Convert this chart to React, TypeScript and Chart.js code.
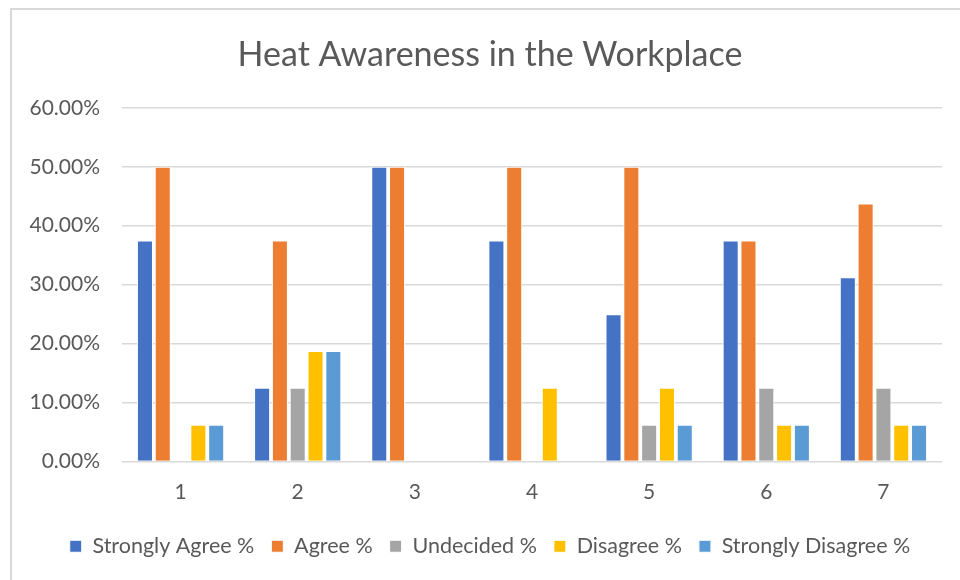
import React, { useEffect, useRef } from "react";
import { Chart, registerables } from "chart.js";

Chart.register(...registerables);

const categories = ["1", "2", "3", "4", "5", "6", "7"];
const seriesNames = ["Strongly Agree %", "Agree %", "Undecided %", "Disagree %", "Strongly Disagree %"];
const stronglyAgree = [0.375, 0.125, 0.5, 0.375, 0.25, 0.375, 0.3125];
const agree = [0.5, 0.375, 0.5, 0.5, 0.5, 0.375, 0.4375];
const undecided = [0, 0.125, 0, 0, 0.0625, 0.125, 0.125];
const disagree = [0.0625, 0.1875, 0, 0.125, 0.125, 0.0625, 0.0625];
const stronglyDisagree = [0.0625, 0.1875, 0, 0, 0.0625, 0.0625, 0.0625];
const seriesColors = ["#4472C4", "#ED7D31", "#A5A5A5", "#FFC000", "#5B9BD5"];
const titleText = "Heat Awareness in the Workplace";

export default function App() {
  const ref = useRef<HTMLCanvasElement | null>(null);
  useEffect(() => {
    if (!ref.current) return;
    const values = [stronglyAgree, agree, undecided, disagree, stronglyDisagree];
    const font = "Lato, 'Open Sans', sans-serif";
    const chart = new Chart(ref.current, {
      type: "bar",
      data: {
        labels: categories,
        datasets: values.map((v, i) => ({
          label: seriesNames[i],
          data: v,
          backgroundColor: seriesColors[i],
          borderColor: "#ffffff",
          borderWidth: 1,
          categoryPercentage: 0.76,
          barPercentage: 0.9,
        })),
      },
      options: {
        animation: false,
        responsive: false,
        maintainAspectRatio: false,
        layout: { padding: { left: 0, right: 0, top: 0, bottom: 13 } },
        plugins: {
          title: {
            display: true,
            text: titleText,
            color: "#595959",
            font: { family: font, size: 34, weight: "normal" },
            padding: { top: 35, bottom: 32 },
          },
          legend: {
            position: "bottom",
            labels: {
              color: "#595959",
              font: { family: font, size: 21.5 },
              boxWidth: 12,
              boxHeight: 12,
              padding: 17,
            },
          },
          tooltip: { enabled: false },
        },
        scales: {
          x: {
            grid: { display: false, drawTicks: false },
            border: { display: false },
            ticks: { color: "#595959", font: { family: font, size: 21 }, padding: 18 },
            afterFit: (s: any) => { s.height = 57; },
          },
          y: {
            min: 0,
            max: 0.6,
            grid: { color: "#d9d9d9", lineWidth: 1.5, drawTicks: false },
            border: { display: false },
            ticks: {
              stepSize: 0.1,
              color: "#595959",
              font: { family: font, size: 21 },
              padding: 22,
              callback: (v: any) => (Number(v) * 100).toFixed(2) + "%",
            },
            afterFit: (s: any) => { s.width = 122; },
          },
          spacer: {
            type: "linear",
            position: "right",
            display: true,
            grid: { display: false, drawOnChartArea: false, drawTicks: false },
            border: { display: false },
            ticks: { display: false },
            afterFit: (s: any) => { s.width = 38; },
          },
        },
      },
    });
    return () => chart.destroy();
  }, []);
  return (
    <div style={{ position: "fixed", left: 0, top: 0, width: 960, height: 580, background: "#fff", overflow: "hidden" }}>
      <div style={{ position: "absolute", left: 10, top: 8, width: 960, height: 580, border: "2px solid #d9d9d9", boxSizing: "border-box" }} />
      <canvas ref={ref} width={980} height={580} style={{ position: "absolute", left: 0, top: 0 }} />
    </div>
  );
}
